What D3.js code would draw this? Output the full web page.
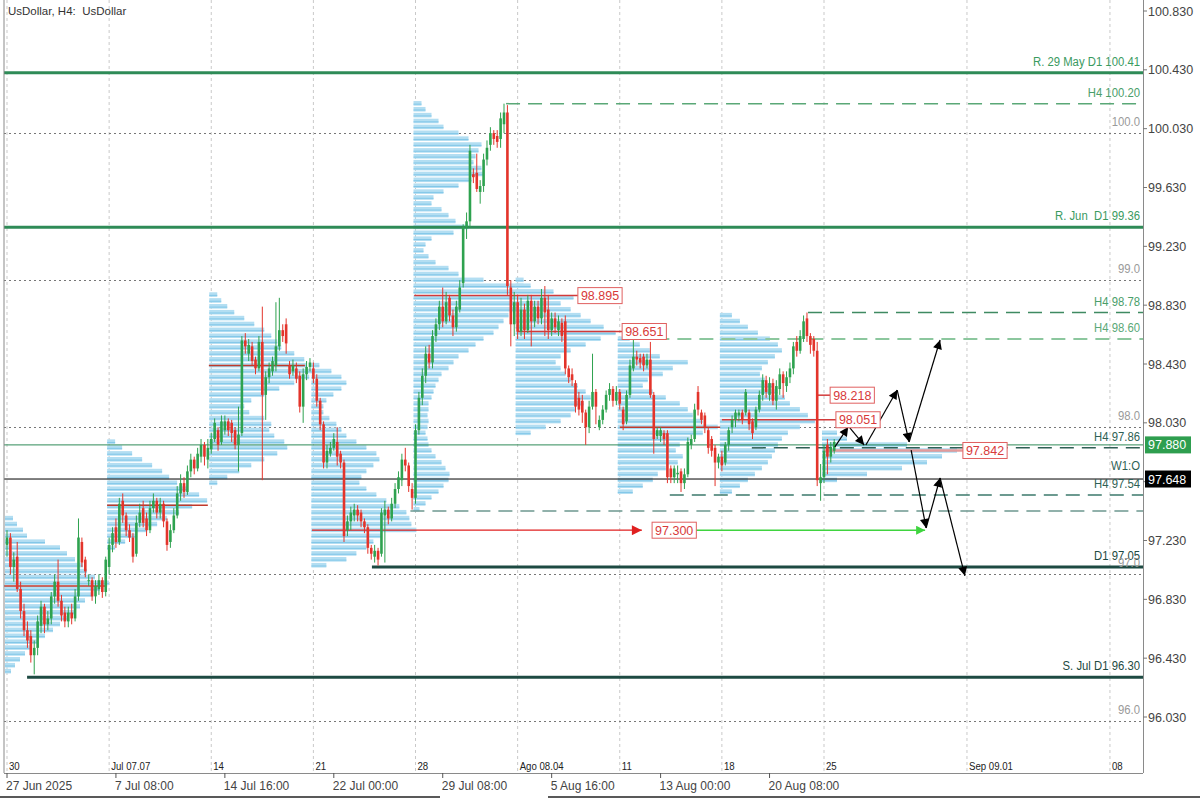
<!DOCTYPE html>
<html><head><meta charset="utf-8">
<script src="https://cdn.jsdelivr.net/npm/d3@7"></script>
<style>
body{margin:0;background:#fff;}
svg{display:block;font-family:"Liberation Sans",Arial,sans-serif;}
text{white-space:pre;}
</style>
</head><body>
<svg id="chart" width="1200" height="800"></svg>
<script>
// ---------------- DATA ----------------
const title = "UsDollar, H4:  UsDollar";
// H4 candles [open, high, low, close], first bar = Mon 30 Jun 2025 00:00
const candles = [
[97.20,97.30,97.12,97.25],[97.25,97.28,97.00,97.05],[97.05,97.15,96.95,97.10],[97.12,97.22,96.88,96.90],[96.90,96.95,96.70,96.75],[96.75,96.80,96.58,96.62],
[96.62,96.68,96.50,96.55],[96.58,96.62,96.40,96.45],[96.45,96.55,96.32,96.50],[96.50,96.72,96.45,96.68],[96.65,96.82,96.60,96.78],[96.78,96.80,96.60,96.66],
[96.66,96.75,96.62,96.70],[96.70,96.88,96.66,96.85],[96.85,97.00,96.80,96.95],[96.95,97.10,96.78,96.82],[96.82,96.86,96.68,96.72],[96.74,96.78,96.64,96.68],
[96.68,96.78,96.64,96.74],[96.74,96.80,96.66,96.70],[96.70,96.90,96.68,96.85],[96.85,97.38,96.82,97.25],[97.22,97.25,97.05,97.08],[97.10,97.12,96.98,97.02],
[96.96,97.00,96.92,96.96],[96.96,96.98,96.82,96.85],[96.85,96.96,96.80,96.92],[96.90,97.00,96.86,96.96],[96.96,96.98,96.84,96.88],[96.88,97.12,96.85,97.10],
[97.05,97.25,97.00,97.20],[97.20,97.32,97.15,97.28],[97.32,97.38,97.18,97.22],[97.22,97.52,97.20,97.48],[97.50,97.55,97.35,97.40],[97.40,97.42,97.26,97.30],
[97.30,97.34,97.22,97.25],[97.25,97.28,97.08,97.12],[97.14,97.40,97.12,97.35],[97.35,97.48,97.32,97.42],[97.45,97.50,97.32,97.35],[97.38,97.42,97.26,97.30],
[97.30,97.50,97.28,97.45],[97.45,97.55,97.42,97.50],[97.50,97.52,97.38,97.42],[97.42,97.52,97.38,97.48],[97.48,97.50,97.32,97.36],[97.36,97.38,97.16,97.20],
[97.22,97.34,97.18,97.30],[97.30,97.45,97.28,97.40],[97.40,97.60,97.38,97.55],[97.55,97.68,97.50,97.62],[97.62,97.66,97.52,97.56],[97.56,97.74,97.54,97.70],
[97.70,97.82,97.66,97.78],[97.78,97.80,97.68,97.72],[97.72,97.86,97.70,97.82],[97.80,97.92,97.76,97.88],[97.88,97.90,97.74,97.80],[97.78,97.92,97.72,97.86],
[97.85,97.96,97.82,97.92],[97.92,98.06,97.90,98.03],[97.98,98.00,97.84,97.88],[97.90,98.08,97.88,98.04],[97.98,98.08,97.95,98.04],[98.04,98.06,97.94,97.98],
[98.03,98.05,97.90,97.96],[97.98,98.00,97.85,97.88],[97.88,98.14,97.70,97.95],[97.96,98.62,97.94,98.59],[98.59,98.64,98.50,98.55],[98.50,98.60,98.45,98.56],
[98.55,98.58,98.42,98.45],[98.46,98.48,98.36,98.40],[98.40,98.62,98.38,98.58],[98.58,98.82,97.64,98.22],[98.22,98.38,98.05,98.34],[98.34,98.44,98.30,98.40],
[98.38,98.48,98.35,98.45],[98.42,98.85,98.38,98.55],[98.55,98.88,98.52,98.66],[98.66,98.70,98.58,98.62],[98.70,98.74,98.50,98.57],[98.42,98.45,98.33,98.36],
[98.38,98.46,98.35,98.42],[98.40,98.44,98.30,98.33],[98.35,98.38,98.10,98.14],[98.14,98.40,98.03,98.36],[98.36,98.45,98.32,98.41],[98.41,98.47,98.38,98.44],
[98.40,98.44,98.30,98.33],[98.33,98.36,98.14,98.18],[98.18,98.20,97.98,98.02],[98.02,98.04,97.72,97.76],[97.76,97.88,97.72,97.84],[97.82,97.90,97.80,97.86],
[97.86,97.96,97.84,97.92],[97.90,98.00,97.74,97.80],[97.82,97.84,97.72,97.76],[97.76,97.78,97.22,97.26],[97.30,97.40,97.26,97.36],[97.36,97.46,97.30,97.42],
[97.40,97.48,97.36,97.44],[97.44,97.47,97.36,97.40],[97.42,97.44,97.32,97.36],[97.36,97.38,97.28,97.32],[97.32,97.34,97.14,97.18],[97.18,97.20,97.10,97.14],
[97.12,97.20,97.08,97.16],[97.16,97.18,97.06,97.10],[97.14,97.45,97.12,97.42],[97.40,97.50,97.08,97.44],[97.44,97.46,97.34,97.38],[97.38,97.52,97.36,97.48],
[97.48,97.62,97.45,97.58],[97.58,97.70,97.55,97.66],[97.64,97.82,97.60,97.78],[97.78,97.86,97.70,97.74],[97.74,97.76,97.56,97.60],[97.58,97.62,97.44,97.52],
[97.52,98.02,97.48,97.98],[97.98,98.24,97.95,98.20],[98.20,98.40,98.15,98.35],[98.35,98.55,98.30,98.50],[98.50,98.56,98.40,98.44],[98.44,98.66,98.40,98.62],
[98.62,98.74,98.58,98.70],[98.70,98.86,98.66,98.82],[98.82,98.95,98.68,98.72],[98.72,98.92,98.70,98.85],[98.88,98.90,98.72,98.76],[98.76,98.80,98.62,98.68],
[98.68,98.86,98.65,98.82],[98.80,99.00,98.78,98.95],[98.98,99.38,98.95,99.36],[99.36,99.46,99.28,99.40],[99.40,99.92,99.36,99.88],[99.72,99.76,99.66,99.70],
[99.73,99.86,99.60,99.62],[99.60,99.68,99.52,99.64],[99.64,99.86,99.60,99.82],[99.82,99.95,99.78,99.90],[99.92,100.04,99.88,100.00],[100.00,100.02,99.92,99.96],
[99.98,100.02,99.90,99.94],[99.96,100.14,99.90,100.10],[100.06,100.20,100.00,100.14],[100.14,100.19,98.90,98.96],[98.95,99.00,98.55,98.70],[98.70,98.92,98.62,98.85],
[98.85,98.90,98.60,98.65],[98.65,98.88,98.62,98.80],[98.80,98.84,98.60,98.66],[98.66,98.90,98.64,98.86],[98.86,98.90,98.55,98.72],[98.72,98.86,98.68,98.82],
[98.82,98.86,98.70,98.74],[98.74,98.94,98.70,98.88],[98.88,98.96,98.62,98.78],[98.80,98.90,98.60,98.66],[98.66,98.78,98.62,98.74],[98.74,98.78,98.64,98.68],
[98.66,98.76,98.62,98.72],[98.71,98.74,98.58,98.62],[98.72,98.76,98.36,98.40],[98.40,98.42,98.30,98.34],[98.36,98.40,98.28,98.32],[98.30,98.32,98.10,98.14],
[98.20,98.24,98.08,98.12],[98.18,98.22,98.03,98.10],[98.10,98.12,97.88,98.00],[98.00,98.18,97.96,98.14],[98.14,98.50,98.12,98.24],[98.24,98.26,98.02,98.14],
[98.00,98.08,97.98,98.05],[98.05,98.15,98.02,98.12],[98.12,98.25,98.10,98.22],[98.22,98.30,98.18,98.26],[98.26,98.28,98.14,98.18],[98.18,98.28,98.15,98.24],
[98.24,98.26,98.12,98.16],[98.12,98.14,97.98,98.02],[98.04,98.25,98.02,98.22],[98.22,98.46,98.20,98.42],[98.40,98.62,98.38,98.48],[98.48,98.52,98.42,98.46],
[98.47,98.50,98.40,98.44],[98.48,98.50,98.38,98.42],[98.42,98.50,98.40,98.46],[98.46,98.58,98.20,98.22],[98.22,98.24,97.82,97.92],[97.94,98.00,97.92,97.98],
[97.94,98.00,97.90,97.98],[97.96,97.98,97.88,97.92],[97.96,97.98,97.62,97.66],[97.72,97.74,97.62,97.66],[97.66,97.74,97.62,97.72],[97.68,97.74,97.62,97.69],
[97.70,97.72,97.56,97.62],[97.62,97.72,97.58,97.68],[97.68,97.93,97.66,97.90],[97.88,97.95,97.85,97.92],[97.92,98.16,97.90,98.12],[98.24,98.28,98.08,98.12],
[98.10,98.12,98.02,98.05],[98.08,98.10,97.96,98.00],[97.98,98.00,97.82,97.86],[97.92,97.94,97.80,97.84],[97.86,97.88,97.60,97.76],[97.76,97.82,97.72,97.80],
[97.80,97.84,97.70,97.74],[97.76,97.90,97.74,97.88],[97.88,98.00,97.84,97.98],[98.00,98.08,97.96,98.05],[98.05,98.12,98.00,98.10],[98.08,98.12,98.04,98.10],
[98.10,98.12,98.02,98.05],[98.10,98.26,98.08,98.24],[98.10,98.12,97.98,98.02],[98.04,98.06,97.92,97.96],[98.00,98.14,97.98,98.12],[98.12,98.25,98.10,98.22],
[98.22,98.36,98.18,98.32],[98.32,98.35,98.20,98.24],[98.22,98.34,98.18,98.30],[98.30,98.33,98.15,98.18],[98.18,98.32,98.12,98.28],[98.26,98.40,98.22,98.36],
[98.36,98.38,98.20,98.30],[98.28,98.38,98.24,98.34],[98.34,98.44,98.30,98.40],[98.40,98.58,98.36,98.55],[98.58,98.62,98.48,98.52],[98.52,98.66,98.50,98.62],
[98.60,98.76,98.58,98.72],[98.74,98.78,98.58,98.62],[98.62,98.64,98.50,98.56],[98.60,98.62,98.48,98.52],[98.52,98.58,97.60,97.64],[97.62,97.75,97.50,97.66],
[97.66,97.88,97.62,97.84],[97.88,97.92,97.68,97.80],[97.80,97.90,97.76,97.86],[97.84,97.92,97.82,97.90]
];

// weekly volume profiles: start bar, top price of first bin, bin volumes (top -> bottom, 0.04 bins)
const profileWeeks = [0,30,60,90,120,150,180,210,240];
const profileTops  = [97.38,97.90,98.90,98.42,100.20,99.00,98.60,98.76,97.96];
const profile1 = [8,12,18,22,40,55,62,70,78,82,90,104,95,88,80,75,70,62,55,48,40,32,25,20,15,10,6];
const profile2 = [8,15,25,35,45,55,62,70,80,92,100,85,72,60,50,40,30,18,8];
const profile3 = [8,12,18,25,35,45,55,62,68,72,85,95,97,105,100,85,70,55,42,35,40,55,62,60,65,75,78,68,55,42,30,18,8];
const profile4 = [8,20,30,35,30,22,15,12,12,18,25,30,35,45,55,65,68,62,55,50,48,55,65,75,88,95,98,100,105,70,62,55,45,35,15];
const profile5 = [8,12,18,25,30,45,55,68,65,62,60,68,70,58,45,30,20,18,28,35,42,55,40,18,12,10,15,22,35,45,70,110,140,160,130,110,95,90,85,80,70,62,55,45,40,35,28,25,22,20,18,15,15,14,15,14,12,14,15,18,22,28,32,36,35,30,25,18,12,6];
const profile6 = [8,15,25,35,45,55,65,75,88,100,85,70,55,45,40,45,50,55,62,70,75,68,60,55,45,30,15];
const profile7 = [12,22,32,42,70,55,45,30,25,35,48,62,70,75,85,100,85,72,62,58,65,60,48,40,35,25,15];
const profile8 = [12,20,28,38,50,58,62,55,48,42,40,45,52,58,65,70,80,88,95,80,68,62,58,55,52,48,42,35,28,20,12];
const profile9 = [15,25,85,135,120,105,80,45,15];
const profileBin = 0.04;

// unlabeled point-of-control lines [fromBar, toBar, price]
const pocPlain = [[-1,29.4,96.92],[29.4,59,97.47],[59.3,87.5,98.42],[180,209.5,98.00]];
// labeled POC lines [fromBar, toBar(box), price, label]
const pocLabeled = [[119.6,167.7,98.895,"98.895"],[150,180.7,98.651,"98.651"],[238,241.8,98.218,"98.218"],[210,243.5,98.051,"98.051"],[240,280.8,97.842,"97.842"]];
const pocArrow = {from:89.6, tip:186.5, box:189.5, price:97.30, label:"97.300"};
const greenArrow = {from:202.1, to:269.7, price:97.30};

// support / resistance levels
const levelNames  = ["R. 29 May D1 100.41","H4 100.20","R. Jun  D1 99.36","H4 98.78","H4 98.60","H4 97.86","H4 97.54","","D1 97.05","S. Jul D1 96.30"];
const levelPrices = [100.41,100.20,99.36,98.78,98.60,97.86,97.54,97.43,97.05,96.30];
const levelFrom   = [-2,146.6,-2,235.3,184,218.8,194.7,118.5,107.2,5.9];
const roundLevels = [100,99,98,97,96];
const roundLabels = ["100.0","99.0","98.0","97.0","96.0"];
const weekOpen = 97.648, lastPrice = 97.880;

// scenario arrows [[bar,price],[bar,price]]
const arrowsUp = [[[243.2,97.866],[247.1,98.002]],[[247.6,97.995],[251.8,97.879]],[[252.3,97.879],[261.5,98.253]],[[261.5,98.253],[265.0,97.90]],[[265.0,97.90],[274.1,98.593]]];
const arrowsDown = [[[265.6,97.845],[270.0,97.315]],[[270.0,97.315],[274.1,97.655]],[[274.1,97.655],[281.4,96.99]]];

// axes
const yTicks = [100.830,100.430,100.030,99.630,99.230,98.830,98.430,98.030,97.630,97.230,96.830,96.430,96.030];
const dateBars = [0,30,60,90,120,150,180,210,240,282,324];
const dateLabels = ["30","Jul 07.07","14","21","28","Ago 08.04","11","18","25","Sep 09.01","08"];
const date2Bars = [0,32,64,96,128,160,192,224];
const date2Labels = ["27 Jun 2025","7 Jul 08:00","14 Jul 16:00","22 Jul 00:00","29 Jul 08:00","5 Aug 16:00","13 Aug 00:00","20 Aug 08:00"];

// ---------------- DRAW ----------------
const svg = d3.select("#chart");
const L=4, R=1143, T=0, B=773;
const x = d3.scaleLinear().domain([0,240]).range([7,824]);
const y = d3.scaleLinear().domain([96.03,100.83]).range([717,11]);
const vol = d3.scaleLinear().domain([0,100]).range([0,100]);

svg.append("rect").attr("width",1200).attr("height",800).attr("fill","#fff");
const defs = svg.append("defs");
defs.append("clipPath").attr("id","clip").append("rect").attr("x",L).attr("y",T).attr("width",R-L).attr("height",B-T);
function marker(id,color,w,h){
  defs.append("marker").attr("id",id).attr("viewBox","0 0 10 10").attr("refX",10).attr("refY",5)
    .attr("markerUnits","userSpaceOnUse").attr("markerWidth",w).attr("markerHeight",h).attr("orient","auto")
    .append("path").attr("d","M0,0 L10,5 L0,10 Z").attr("fill",color);
}
marker("ab","#000",12,9); marker("ag","#3fd43f",11,9); marker("ar","#e02020",13,10);

const plot = svg.append("g").attr("clip-path","url(#clip)");

// vertical grid
plot.selectAll(".vg").data(dateBars).join("line")
  .attr("x1",d=>x(d)).attr("x2",d=>x(d)).attr("y1",T).attr("y2",B)
  .attr("stroke","#c9c9c9").attr("stroke-dasharray","3,3").attr("stroke-width",1);
// round levels
plot.selectAll(".rg").data(roundLevels).join("line")
  .attr("x1",L).attr("x2",R).attr("y1",d=>Math.round(y(d))+0.5).attr("y2",d=>Math.round(y(d))+0.5)
  .attr("stroke","#777").attr("stroke-dasharray","2,3").attr("stroke-width",1);

// volume profiles
const profiles=[profile1,profile2,profile3,profile4,profile5,profile6,profile7,profile8,profile9];
profiles.forEach((p,k)=>{
  const x0 = x(profileWeeks[k])-2;
  const g = plot.append("g");
  g.selectAll("rect").data(p).join("rect")
    .attr("x",x0)
    .attr("y",(d,i)=>y(profileTops[k]-i*profileBin)-2.6)
    .attr("width",d=>vol(d))
    .attr("height",4.6)
    .attr("fill","#b3def2");
  g.selectAll("line").data(p).join("line")
    .attr("x1",x0).attr("x2",d=>x0+vol(d))
    .attr("y1",(d,i)=>y(profileTops[k]-i*profileBin)+0.5)
    .attr("y2",(d,i)=>y(profileTops[k]-i*profileBin)+0.5)
    .attr("stroke","#82c7e8").attr("stroke-width",1);
});

// POC plain
plot.selectAll(".pp").data(pocPlain).join("line")
  .attr("x1",d=>Math.max(L,x(d[0]))).attr("x2",d=>x(d[1]))
  .attr("y1",d=>y(d[2])).attr("y2",d=>y(d[2]))
  .attr("stroke","#c0392b").attr("stroke-width",1.5);
plot.selectAll(".pl").data(pocLabeled).join("line")
  .attr("x1",d=>x(d[0])).attr("x2",d=>x(d[1]))
  .attr("y1",d=>y(d[2])).attr("y2",d=>y(d[2]))
  .attr("stroke",(d,i)=>i===4?"#e49a9a":"#d23a3a").attr("stroke-width",(d,i)=>i===4?2.5:1.5);
plot.append("line").attr("x1",x(pocArrow.from)).attr("x2",x(pocArrow.tip))
  .attr("y1",y(pocArrow.price)).attr("y2",y(pocArrow.price))
  .attr("stroke","#e02020").attr("stroke-width",1.2).attr("marker-end","url(#ar)");
plot.append("line").attr("x1",x(greenArrow.from)).attr("x2",x(greenArrow.to))
  .attr("y1",y(greenArrow.price)).attr("y2",y(greenArrow.price))
  .attr("stroke","#3fd43f").attr("stroke-width",1.5).attr("marker-end","url(#ag)");

// levels
const lvStyle = [
 {c:"#2e8b57",w:3,d:null,t:"#3a9a5f"},{c:"#5aa877",w:1.5,d:"14,8",t:"#4a9e6a"},
 {c:"#2e8b57",w:3,d:null,t:"#3a9a5f"},{c:"#3f8a62",w:1.5,d:"14,8",t:"#4a9e6a"},
 {c:"#8cc79e",w:2,d:"14,8",t:"#5aa877"},{c:"#2f5f55",w:1.5,d:"14,8",t:"#2f5f55"},
 {c:"#3d7a6c",w:1.5,d:"14,8",t:"#2f5f55"},{c:"#6e9890",w:1.5,d:"14,8",t:"#2f5f55"},
 {c:"#1d4a42",w:3,d:null,t:"#1d4a42"},{c:"#1d4a42",w:3,d:null,t:"#1d4a42"}];
plot.selectAll(".lv").data(levelPrices).join("line")
  .attr("x1",(d,i)=>Math.max(L,x(levelFrom[i]))).attr("x2",R)
  .attr("y1",d=>y(d)).attr("y2",d=>y(d))
  .attr("stroke",(d,i)=>lvStyle[i].c).attr("stroke-width",(d,i)=>lvStyle[i].w)
  .attr("stroke-dasharray",(d,i)=>lvStyle[i].d);
// current price and week open lines
plot.append("line").attr("x1",L).attr("x2",R).attr("y1",y(lastPrice)).attr("y2",y(lastPrice)).attr("stroke","#2e8b57").attr("stroke-width",1);
plot.append("line").attr("x1",L).attr("x2",R).attr("y1",y(weekOpen)).attr("y2",y(weekOpen)).attr("stroke","#000").attr("stroke-width",1);

// candles
const cg = plot.append("g");
cg.selectAll("line").data(candles).join("line")
  .attr("x1",(d,i)=>x(i)).attr("x2",(d,i)=>x(i))
  .attr("y1",d=>y(d[1])).attr("y2",d=>y(d[2]))
  .attr("stroke",d=>d[3]>=d[0]?"#2ea24f":"#e3342b").attr("stroke-width",1);
cg.selectAll("rect").data(candles).join("rect")
  .attr("x",(d,i)=>x(i)-1.3).attr("width",2.6)
  .attr("y",d=>y(Math.max(d[0],d[3])))
  .attr("height",d=>Math.max(1,Math.abs(y(d[0])-y(d[3]))))
  .attr("fill",d=>d[3]>=d[0]?"#2ea24f":"#e3342b");

// scenario arrows
plot.selectAll(".au").data(arrowsUp.concat(arrowsDown)).join("line")
  .attr("x1",d=>x(d[0][0])).attr("y1",d=>y(d[0][1]))
  .attr("x2",d=>x(d[1][0])).attr("y2",d=>y(d[1][1]))
  .attr("stroke","#000").attr("stroke-width",1.2).attr("marker-end","url(#ab)");

// label boxes
function box(bar,price,label){
  const bx=x(bar), by=y(price);
  const g=plot.append("g");
  const t=g.append("text").attr("x",bx+3).attr("y",by+4.5).attr("font-size",12.5).attr("fill","#d83a3a").text(label);
  const w=t.node().getComputedTextLength();
  g.insert("rect","text").attr("x",bx).attr("y",by-8).attr("width",w+6).attr("height",16)
    .attr("fill","#fff").attr("stroke","#e06060").attr("stroke-width",1);
}
pocLabeled.forEach(d=>box(d[1],d[2],d[3]));
box(pocArrow.box,pocArrow.price,pocArrow.label);

// level labels (condensed by horizontal scaling)
const NARROW = 0.84;
function narrowText(parent,xr,yb,str,color,size,anchor){
  parent.append("text").attr("transform",`translate(${xr},${yb}) scale(${NARROW},1)`)
    .attr("text-anchor",anchor).attr("font-size",size).attr("fill",color).text(str);
}
const lab = svg.append("g");
levelPrices.forEach((p,i)=>{
  if(!levelNames[i]) return;
  narrowText(lab,1140,y(p)-7,levelNames[i],lvStyle[i].t,13.5,"end");
});
narrowText(lab,1140,y(weekOpen)-9,"W1:O","#2f5f55",13.5,"end");
roundLevels.forEach((p,i)=>{
  narrowText(lab,1140,y(p)-7,roundLabels[i],"#9a9a9a",13.5,"end");
});

// title
svg.append("text").attr("x",8).attr("y",15).attr("font-size",11.5).attr("fill","#333").text(title);

// borders
svg.append("line").attr("x1",L).attr("x2",L).attr("y1",T).attr("y2",B).attr("stroke","#8a8a8a");
svg.append("line").attr("x1",L).attr("x2",R).attr("y1",B+0.5).attr("y2",B+0.5).attr("stroke","#8a8a8a");
svg.append("line").attr("x1",R+0.5).attr("x2",R+0.5).attr("y1",T).attr("y2",B).attr("stroke","#8a8a8a");

// right axis (labels hidden where the price tags sit, as in the terminal)
const tagPrices = [lastPrice, weekOpen];
const ax = svg.append("g");
ax.selectAll("line").data(yTicks).join("line")
  .attr("x1",R).attr("x2",R+4).attr("y1",d=>y(d)).attr("y2",d=>y(d)).attr("stroke","#777");
ax.selectAll("text").data(yTicks.filter(t=>tagPrices.every(p=>Math.abs(y(p)-y(t))>14))).join("text")
  .attr("x",R+5).attr("y",d=>y(d)+4.5).attr("font-size",12.5).attr("fill","#444")
  .text(d=>d3.format(".3f")(d));

// price tags
function tag(price,bg,label){
  svg.append("rect").attr("x",R+2).attr("y",y(price)-8.5).attr("width",46).attr("height",17).attr("fill",bg);
  svg.append("text").attr("x",R+5).attr("y",y(price)+4.5).attr("font-size",12.5).attr("fill","#fff").text(label);
}
tag(lastPrice,"#2e9e4f",d3.format(".3f")(lastPrice));
tag(weekOpen,"#000",d3.format(".3f")(weekOpen));

// date labels row 1 (inside plot)
const r1 = svg.append("g");
dateBars.forEach((d,i)=>narrowText(r1,x(d)+2,770,dateLabels[i],"#222",11.5,"start"));
// date labels row 2
const r2 = svg.append("g");
r2.selectAll("line").data(date2Bars).join("line")
  .attr("x1",d=>Math.max(L,x(d))).attr("x2",d=>Math.max(L,x(d))).attr("y1",B).attr("y2",B+5).attr("stroke","#555");
r2.selectAll("text").data(date2Bars).join("text")
  .attr("x",d=>Math.max(L,x(d)-3)+2).attr("y",790).attr("font-size",12).attr("fill","#444")
  .text((d,i)=>date2Labels[i]);
svg.append("line").attr("x1",0).attr("x2",440).attr("y1",797).attr("y2",797).attr("stroke","#222").attr("stroke-width",1.5);
svg.append("line").attr("x1",548).attr("x2",1200).attr("y1",797).attr("y2",797).attr("stroke","#222").attr("stroke-width",1.5);
</script>
</body></html>
